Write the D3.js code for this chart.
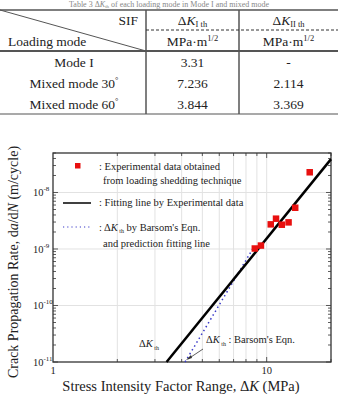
<!DOCTYPE html>
<html>
<head>
<meta charset="utf-8">
<script src="https://cdn.jsdelivr.net/npm/d3@7"></script>
<style>
  body { margin: 0; background: #fff; }
  text { font-family: "Liberation Serif", "DejaVu Serif", serif; fill: #222; }
</style>
</head>
<body>
<script>
// table data
var modes = ["Mode I", "Mixed mode 30", "Mixed mode 60"];
var kI = ["3.31", "7.236", "3.844"];
var kII = ["-", "2.114", "3.369"];
var degMark = [false, true, true];

// chart data : experimental points (dK in MPa, da/dN in m/cycle)
var expDK = [8.8, 9.4, 10.45, 11.06, 11.77, 12.66, 13.6, 15.9];
var expRate = [1.02e-9, 1.15e-9, 2.73e-9, 3.44e-9, 2.69e-9, 2.96e-9, 5.37e-9, 2.28e-8];
// fitting line by experimental data
var fitDK = [3.4, 20];
var fitRate = [1e-11, 3.9e-8];
// Barsom prediction line
var barDK = [4.15, 8.6];
var barRate = [1e-11, 1e-9];

var xTicks = [1, 10];
var yTicks = [1e-11, 1e-10, 1e-9, 1e-8];
var yTickExp = ["-11", "-10", "-9", "-8"];

var W = 338, H = 394;
var svg = d3.select("body").append("svg").attr("width", W).attr("height", H);

// ---------- TABLE ----------
var tb = svg.append("g");
var lineCol = "#555";
var colX = [146, 239];
var tTop = 10, tHead = 51, tBot = 114;
var rowY = [67, 88, 109];
var tfs = 13.5;

// caption (cut by the top in the original)
var cap = tb.append("text").attr("x", W / 2).attr("y", 7).attr("text-anchor", "middle")
  .attr("font-size", 8).style("fill", "#888");
cap.append("tspan").text("Table 3  \u0394");
cap.append("tspan").style("font-style", "italic").text("K");
cap.append("tspan").attr("font-size", 5).attr("dy", 1).text("th");
cap.append("tspan").attr("dy", -1).text(" of each loading mode in Mode I and mixed mode");

tb.append("line").attr("x1", 0).attr("x2", W).attr("y1", tTop).attr("y2", tTop)
  .attr("stroke", lineCol).attr("stroke-width", 1.5);
tb.append("line").attr("x1", 0).attr("x2", W).attr("y1", tHead).attr("y2", tHead)
  .attr("stroke", lineCol).attr("stroke-width", 2);
tb.append("line").attr("x1", 0).attr("x2", W).attr("y1", tBot).attr("y2", tBot)
  .attr("stroke", lineCol).attr("stroke-width", 1.2);
colX.forEach(function(cx) {
  tb.append("line").attr("x1", cx).attr("x2", cx).attr("y1", tTop).attr("y2", tBot)
    .attr("stroke", lineCol).attr("stroke-width", 1.5);
});
tb.append("line").attr("x1", 0).attr("y1", tTop).attr("x2", colX[0]).attr("y2", tHead)
  .attr("stroke", lineCol).attr("stroke-width", 1);
tb.append("line").attr("x1", colX[0]).attr("x2", W).attr("y1", 30).attr("y2", 30)
  .attr("stroke", "#333").attr("stroke-width", 1).attr("stroke-dasharray", "3,2");

tb.append("text").attr("x", 138).attr("y", 25).attr("text-anchor", "end")
  .attr("font-size", tfs).text("SIF");
tb.append("text").attr("x", 8).attr("y", 46).attr("font-size", tfs).text("Loading mode");

var colC = [(colX[0] + colX[1]) / 2, (colX[1] + W) / 2];
var subs = ["I th", "II th"];
colC.forEach(function(cx, i) {
  var t = tb.append("text").attr("x", cx).attr("y", 25).attr("text-anchor", "middle")
    .attr("font-size", tfs);
  t.append("tspan").text("\u0394");
  t.append("tspan").style("font-style", "italic").text("K");
  t.append("tspan").attr("font-size", 8.5).attr("dy", 2).text(subs[i]);
  var u = tb.append("text").attr("x", cx).attr("y", 46).attr("text-anchor", "middle")
    .attr("font-size", tfs);
  u.append("tspan").text("MPa\u00b7m");
  u.append("tspan").attr("font-size", 8.5).attr("dy", -5).text("1/2");
});

modes.forEach(function(m, i) {
  var t = tb.append("text").attr("x", 74).attr("y", rowY[i]).attr("text-anchor", "middle")
    .attr("font-size", tfs);
  t.append("tspan").text(m);
  if (degMark[i]) t.append("tspan").attr("font-size", 8.5).attr("dy", -5).text("\u00b0");
  tb.append("text").attr("x", colC[0]).attr("y", rowY[i]).attr("text-anchor", "middle")
    .attr("font-size", tfs).text(kI[i]);
  tb.append("text").attr("x", colC[1]).attr("y", rowY[i]).attr("text-anchor", "middle")
    .attr("font-size", tfs).text(kII[i]);
});

// ---------- CHART ----------
var pl = 53, pr = 331, pt = 153, pb = 362;
var x = d3.scaleLog().domain([1, 20]).range([pl, pr]);
var y = d3.scaleLog().domain([1e-11, 5e-8]).range([pb, pt]);

var g = svg.append("g");

// grid
var xMinor = [2, 3, 4, 5, 6, 7, 8, 9, 10, 20];
g.selectAll(".vg").data(xMinor.filter(function(d) { return d < 20; })).enter().append("line")
  .attr("x1", function(d) { return x(d); }).attr("x2", function(d) { return x(d); })
  .attr("y1", pt).attr("y2", pb).attr("stroke", "#e2e2e2").attr("stroke-width", 1);
g.selectAll(".hg").data(yTicks.slice(1)).enter().append("line")
  .attr("x1", pl).attr("x2", pr)
  .attr("y1", function(d) { return y(d); }).attr("y2", function(d) { return y(d); })
  .attr("stroke", "#e2e2e2").attr("stroke-width", 1);

// ticks (inside)
var yMinor = [];
[1e-11, 1e-10, 1e-9, 1e-8].forEach(function(b) {
  for (var k = 1; k <= 9; k++) if (b * k <= 5e-8) yMinor.push(b * k);
});
yMinor.forEach(function(v) {
  var len = (yTicks.indexOf(v) >= 0) ? 5 : 3;
  g.append("line").attr("x1", pl).attr("x2", pl + len).attr("y1", y(v)).attr("y2", y(v))
    .attr("stroke", "#333").attr("stroke-width", 0.8);
  g.append("line").attr("x1", pr).attr("x2", pr - len).attr("y1", y(v)).attr("y2", y(v))
    .attr("stroke", "#333").attr("stroke-width", 0.8);
});
xMinor.forEach(function(v) {
  var len = (v === 10) ? 5 : 3;
  g.append("line").attr("x1", x(v)).attr("x2", x(v)).attr("y1", pb).attr("y2", pb - len)
    .attr("stroke", "#333").attr("stroke-width", 0.8);
  g.append("line").attr("x1", x(v)).attr("x2", x(v)).attr("y1", pt).attr("y2", pt + len)
    .attr("stroke", "#333").attr("stroke-width", 0.8);
});

// frame
g.append("rect").attr("x", pl).attr("y", pt).attr("width", pr - pl).attr("height", pb - pt)
  .attr("fill", "none").attr("stroke", "#333").attr("stroke-width", 1.3);

// tick labels
xTicks.forEach(function(v) {
  g.append("text").attr("x", x(v)).attr("y", 374).attr("text-anchor", "middle")
    .attr("font-size", 10.5).text(String(v));
});
yTicks.forEach(function(v, i) {
  var t = g.append("text").attr("x", 33).attr("y", y(v) + 4).attr("font-size", 10.5);
  t.append("tspan").text("10");
  t.append("tspan").attr("font-size", 7).attr("dy", -5).text(yTickExp[i]);
});

// axis titles
var xt = g.append("text").attr("x", 181).attr("y", 391).attr("text-anchor", "middle")
  .attr("font-size", 14.5);
xt.append("tspan").text("Stress Intensity Factor Range, \u0394");
xt.append("tspan").style("font-style", "italic").text("K");
xt.append("tspan").text(" (MPa)");

var yt = g.append("text").attr("transform", "translate(18," + 262 + ") rotate(-90)")
  .attr("text-anchor", "middle").attr("font-size", 14);
yt.append("tspan").text("Crack Propagation Rate, d");
yt.append("tspan").style("font-style", "italic").text("a");
yt.append("tspan").text("/d");
yt.append("tspan").style("font-style", "italic").text("N");
yt.append("tspan").text(" (m/cycle)");

// lines
var line = d3.line().x(function(d) { return x(d[0]); }).y(function(d) { return y(d[1]); });
g.append("path").datum(d3.zip(barDK, barRate)).attr("d", line)
  .attr("fill", "none").attr("stroke", "#3a3ac8").attr("stroke-width", 1.5)
  .attr("stroke-dasharray", "1.5,3");
g.append("path").datum(d3.zip(fitDK, fitRate)).attr("d", line)
  .attr("fill", "none").attr("stroke", "#000").attr("stroke-width", 2.5);

// points
var sq = 6.5;
g.selectAll(".pt").data(d3.zip(expDK, expRate)).enter().append("rect")
  .attr("x", function(d) { return x(d[0]) - sq / 2; })
  .attr("y", function(d) { return y(d[1]) - sq / 2; })
  .attr("width", sq).attr("height", sq).attr("fill", "#e8100f");

// legend
var lg = g.append("g");
var fs = 10.5;
lg.append("rect").attr("x", 75).attr("y", 163).attr("width", 5.5).attr("height", 5.5).attr("fill", "#e8100f");
lg.append("text").attr("x", 99).attr("y", 170).attr("font-size", fs).text(": Experimental data obtained");
lg.append("text").attr("x", 103).attr("y", 184).attr("font-size", fs).text("from loading shedding technique");
lg.append("line").attr("x1", 63).attr("x2", 91).attr("y1", 203).attr("y2", 203)
  .attr("stroke", "#000").attr("stroke-width", 1.5);
lg.append("text").attr("x", 99).attr("y", 206).attr("font-size", fs).text(": Fitting line by Experimental data");
lg.append("line").attr("x1", 63).attr("x2", 91).attr("y1", 227).attr("y2", 227)
  .attr("stroke", "#3a3ac8").attr("stroke-width", 1.2).attr("stroke-dasharray", "1.2,3");
var bt = lg.append("text").attr("x", 99).attr("y", 231).attr("font-size", fs);
bt.append("tspan").text(": \u0394");
bt.append("tspan").style("font-style", "italic").text("K");
bt.append("tspan").attr("font-size", 6).attr("dy", 2).text(" th");
bt.append("tspan").attr("dy", -2).text(" by Barsom's Eqn.");
lg.append("text").attr("x", 103).attr("y", 247).attr("font-size", fs).text("and prediction fitting line");

// annotations
var a1 = g.append("text").attr("x", 139).attr("y", 347).attr("font-size", fs);
a1.append("tspan").text("\u0394");
a1.append("tspan").style("font-style", "italic").text("K");
a1.append("tspan").attr("font-size", 6).attr("dy", 3).text(" th");
var a2 = g.append("text").attr("x", 206).attr("y", 343).attr("font-size", fs);
a2.append("tspan").text("\u0394");
a2.append("tspan").style("font-style", "italic").text("K");
a2.append("tspan").attr("font-size", 6).attr("dy", 3).text(" th");
a2.append("tspan").attr("dy", -3).text(" : Barsom's Eqn.");

g.append("line").attr("x1", 203).attr("y1", 349).attr("x2", 188).attr("y2", 359)
  .attr("stroke", "#333").attr("stroke-width", 0.8);
g.append("path").attr("d", "M186,360 L191,355 L192,358 Z").attr("fill", "#333");
</script>
</body>
</html>
